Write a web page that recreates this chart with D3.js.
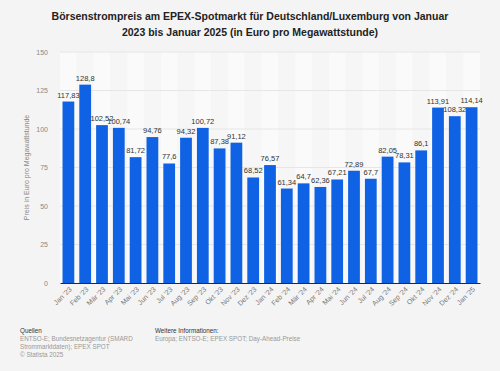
<!DOCTYPE html>
<html>
<head>
<meta charset="utf-8">
<script src="https://cdn.jsdelivr.net/npm/d3@7"></script>
<style>
  html, body { margin: 0; padding: 0; background: #f4f4f4; }
  svg { display: block; font-family: "Liberation Sans", Arial, sans-serif; }
</style>
</head>
<body>
<svg id="chart" width="500" height="371"></svg>
<script>
var months = ["Jan '23", "Feb '23", "Mär '23", "Apr '23", "Mai '23", "Jun '23", "Jul '23", "Aug '23",
  "Sep '23", "Okt '23", "Nov '23", "Dez '23", "Jan '24", "Feb '24", "Mär '24", "Apr '24", "Mai '24",
  "Jun '24", "Jul '24", "Aug '24", "Sep '24", "Okt '24", "Nov '24", "Dez '24", "Jan '25"];
var prices = [117.83, 128.8, 102.52, 100.74, 81.72, 94.76, 77.6, 94.32, 100.72, 87.38, 91.12, 68.52,
  76.57, 61.34, 64.7, 62.36, 67.21, 72.89, 67.7, 82.05, 78.31, 86.1, 113.91, 108.32, 114.14];
var yTicks = [0, 25, 50, 75, 100, 125, 150];

var margin = { top: 52, right: 20, bottom: 88, left: 60 };
var width = 500 - margin.left - margin.right;
var height = 371 - margin.top - margin.bottom;

var svg = d3.select('#chart');
var g = svg.append('g').attr('transform', 'translate(' + margin.left + ',' + margin.top + ')');

var x = d3.scaleBand().domain(months).range([0, width]).paddingInner(0.3).paddingOuter(0.15);
var y = d3.scaleLinear().domain([0, 150]).range([height, 0]);

// title
var title = svg.append('text')
    .attr('x', 250)
    .attr('text-anchor', 'middle')
    .style('font-size', '10.5px')
    .style('font-weight', 'bold')
    .attr('fill', '#222');
title.append('tspan').attr('x', 250).attr('y', 20)
    .text('Börsenstrompreis am EPEX-Spotmarkt für Deutschland/Luxemburg von Januar');
title.append('tspan').attr('x', 250).attr('y', 36)
    .text('2023 bis Januar 2025 (in Euro pro Megawattstunde)');

// alternating stripes
g.selectAll('.stripe')
    .data(months)
    .enter().append('rect')
    .attr('class', 'stripe')
    .attr('x', function (d) { return x(d) - x.step() * x.paddingInner() / 2; })
    .attr('y', 0)
    .attr('width', x.step())
    .attr('height', height)
    .attr('fill', function (d, i) { return i % 2 ? '#f6f6f6' : '#fafafa'; });

// grid
g.selectAll('.grid')
    .data(yTicks.slice(1))
    .enter().append('line')
    .attr('x1', 0)
    .attr('x2', width)
    .attr('y1', function (d) { return y(d); })
    .attr('y2', function (d) { return y(d); })
    .attr('stroke', '#e6e6e6')
    .attr('stroke-width', 1);

// y axis
var yAxis = d3.axisLeft(y).tickValues(yTicks).tickSize(0).tickPadding(12);
var yg = g.append('g').call(yAxis);
yg.select('.domain').remove();
yg.selectAll('text')
    .style('font-size', '7px')
    .attr('fill', '#888')
    .style('font-family', '"Liberation Sans", Arial, sans-serif');

svg.append('text')
    .attr('transform', 'translate(29,' + (margin.top + height / 2) + ') rotate(-90)')
    .attr('text-anchor', 'middle')
    .style('font-size', '7px')
    .attr('fill', '#888')
    .text('Preis in Euro pro Megawattstunde');

// bars
g.selectAll('.bar')
    .data(prices)
    .enter().append('rect')
    .attr('class', 'bar')
    .attr('x', function (d, i) { return x(months[i]); })
    .attr('y', function (d) { return y(d); })
    .attr('width', x.bandwidth())
    .attr('height', function (d) { return height - y(d); })
    .attr('fill', '#0f62e3');

// value labels
g.selectAll('.val')
    .data(prices)
    .enter().append('text')
    .attr('class', 'val')
    .attr('x', function (d, i) { return x(months[i]) + x.bandwidth() / 2; })
    .attr('y', function (d) { return y(d) - 4; })
    .attr('text-anchor', 'middle')
    .style('font-size', '7.5px')
    .attr('fill', '#333')
    .text(function (d) { return String(d).replace('.', ','); });

// x axis
var xAxis = d3.axisBottom(x).tickSize(0).tickPadding(6);
var xg = g.append('g').attr('transform', 'translate(0,' + height + ')').call(xAxis);
xg.select('.domain').attr('stroke', '#1a2a40').attr('stroke-width', 1);
xg.selectAll('text')
    .style('font-size', '7px')
    .attr('fill', '#777')
    .style('font-family', '"Liberation Sans", Arial, sans-serif')
    .attr('text-anchor', 'end')
    .attr('dy', '0.5em')
    .attr('transform', 'rotate(-45) translate(-2,-2)');

// footer
var foot = svg.append('g').style('font-size', '6.3px');
foot.append('text').attr('x', 20).attr('y', 333).attr('fill', '#333').text('Quellen');
var src = ['ENTSO-E; Bundesnetzagentur (SMARD', 'Strommarktdaten); EPEX SPOT', '© Statista 2025'];
foot.selectAll('.src')
    .data(src)
    .enter().append('text')
    .attr('x', 20)
    .attr('y', function (d, i) { return 341 + i * 8; })
    .attr('fill', '#999')
    .text(function (d) { return d; });
foot.append('text').attr('x', 155).attr('y', 333).attr('fill', '#333').text('Weitere Informationen:');
foot.append('text').attr('x', 155).attr('y', 341).attr('fill', '#999')
    .text('Europa; ENTSO-E; EPEX SPOT; Day-Ahead-Preise');
</script>
</body>
</html>
